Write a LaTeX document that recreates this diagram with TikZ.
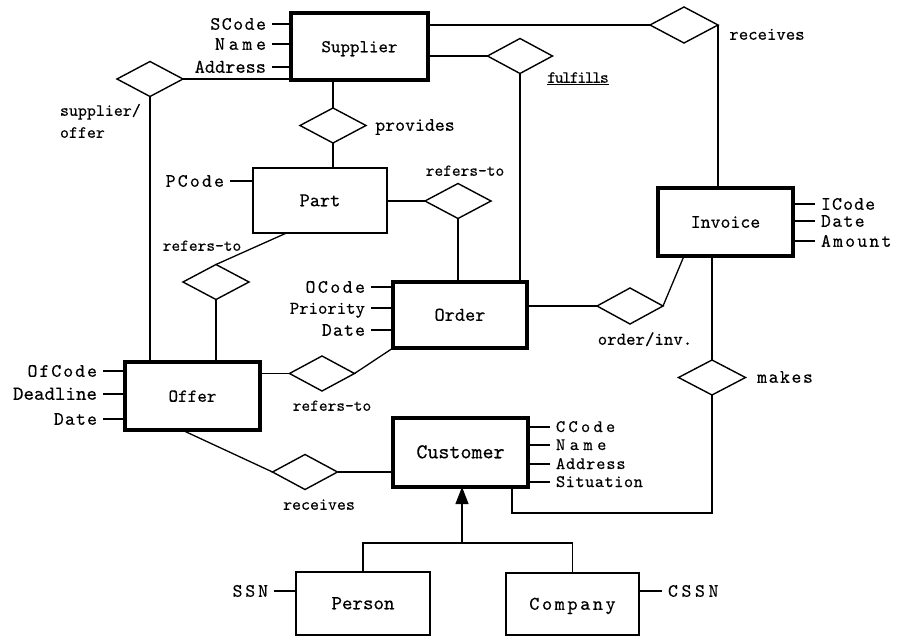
\documentclass[tikz,border=0pt]{standalone}
\usepackage{fontspec}
\usetikzlibrary{shapes.geometric,arrows.meta,calc}
\newfontfamily\tw{lmmono10-regular.otf}[FakeBold=0.3]
% typewriter text of a given size, with optional letter spacing
\newcommand\ft[2][0]{\tw\fontsize{#2}{#2}\selectfont\addfontfeature{LetterSpace=#1}}

\begin{document}
\begin{tikzpicture}[x=1pt,y=-1pt,
  every node/.style={inner sep=0pt, outer sep=0pt, text height=11.5pt, text depth=0pt},
  strong/.style={draw, rectangle, line width=3.8pt},
  weak/.style={draw, rectangle, line width=1.4pt},
  rel/.style={draw, diamond, line width=1.4pt, text height=0pt,
              minimum width=66pt, minimum height=35pt},
  link/.style={line width=1.3pt},
  attrL/.style={anchor=east, inner xsep=6pt},
  attrR/.style={anchor=west, inner xsep=6pt},
]
\fill[white] (0,0) rectangle (899,637);
\useasboundingbox (0,0) rectangle (899,637);

% entities
\node[strong, minimum width=137pt, minimum height=67pt, font={\ft{18.1}}] (sup) at (359.5,46.5) {Supplier};
\node[weak,   minimum width=134pt, minimum height=65pt, font={\ft{19.4}}] (part) at (320,200.5) {Part};
\node[strong, minimum width=134pt, minimum height=66pt, font={\ft{19.4}}] (ord) at (460,315) {Order};
\node[strong, minimum width=135pt, minimum height=68pt, font={\ft{18.9}}] (inv) at (725.5,222) {Invoice};
\node[strong, minimum width=135pt, minimum height=68pt, font={\ft{18.3}}] (off) at (192.5,396) {Offer};
\node[strong, minimum width=135pt, minimum height=69pt, font={\ft{21}}]   (cus) at (460.5,452.5) {Customer};
\node[weak,   minimum width=134pt, minimum height=63pt, font={\ft{20}}]   (per) at (363,603.5) {Person};
\node[weak,   minimum width=133pt, minimum height=62pt, font={\ft[13]{19.4}}] (com) at (572.5,604) {Company};

% relationships
\node[rel, minimum width=68pt, minimum height=36pt] (rS) at (684,25) {};
\node[rel, minimum width=65pt] (ful) at (520,56) {};
\node[rel] (so)  at (150,79) {};
\node[rel] (pr)  at (333,125.5) {};
\node[rel] (rPO) at (458,201) {};
\node[rel] (rOP) at (216,282) {};
\node[rel, minimum width=65pt] (rOO) at (322,373.5) {};
\node[rel, minimum height=36pt] (oi) at (630,306) {};
\node[rel, minimum width=67pt] (mk) at (712,377.5) {};
\node[rel, minimum width=65pt] (rC) at (305,472) {};

% relationship names
\node[font={\ft{17.9}}] (rSl) at (767,34) {receives};
\node[font={\ft[-8.5]{17.1}}] (fulfl) at (578,77) {\underline{fulfills}};
\node[anchor=west, font={\ft{17.1}}] (sol1) at (60,110) {supplier/};
\node[anchor=west, font={\ft{17.1}}] (sol2) at (60,132) {offer};
\node[font={\ft{18.9}}] (prl) at (415,125) {provides};
\node[font={\ft{16.6}}] (rPOl) at (465,170) {refers-to};
\node[font={\ft{16.6}}] (rOPl) at (202,245) {refers-to};
\node[font={\ft{16.6}}] (rOOl) at (332,405) {refers-to};
\node[font={\ft{18}}]   (oil) at (645,339) {order/inv.};
\node[font={\ft[8]{18.9}}] (mkl) at (785,377) {makes};
\node[font={\ft{17.1}}] (rCl) at (319,504) {receives};

% connectors
\draw[link] (sup.east |- rS.west) -- (rS.west);
\draw[link] (rS.east) -- (rS.east |- inv.north);
\draw[link] (sup.east |- ful.west) -- (ful.west);
\draw[link] (ful.south) -- (ful.south |- ord.north);
\draw[link] (so.east) -- (so.east -| sup.west);
\draw[link] (so.south) -- (so.south |- off.north);
\draw[link] (pr.north |- sup.south) -- (pr.north);
\draw[link] (pr.south) -- (pr.south |- part.north);
\draw[link] (part.east |- rPO.west) -- (rPO.west);
\draw[link] (rPO.south) -- (rPO.south |- ord.north);
\draw[link] (rOP.north) -- ($(part.south west)!0.25!(part.south east)$);
\draw[link] (rOP.south) -- (rOP.south |- off.north);
\draw[link] (off.east |- rOO.west) -- (rOO.west);
\draw[link] (rOO.east) -- (ord.south west);
\draw[link] (ord.east |- oi.west) -- (oi.west);
\draw[link] (oi.east) -- ($(inv.south west)+(26,0)$);
\draw[link] (mk.north |- inv.south) -- (mk.north);
\draw[link] (mk.south) |- ($(cus.south east)+(-16,26)$) -- ($(cus.south east)+(-16,0)$);
\draw[link] (rC.east) -- (rC.east -| cus.west);
\draw[link] (rC.west) -- ($(off.south west)+(57,0)$);

% generalization
\coordinate (hub) at (462,543);
\draw[link] (per.north) |- (hub) -| (com.north);
\draw[link, -{Triangle[length=17pt,width=13pt]}] (hub) -- (hub |- cus.south);

% attributes
\node[attrL, font={\ft[8]{18.9}}]  (a1) at (272,24) {SCode};
\node[attrL, font={\ft[20]{18.9}}] (a2) at (272,44) {Name};
\node[attrL, font={\ft{19.4}}]     (a3) at (272,67) {Address};
\foreach \a in {a1,a2,a3} \draw[link] (\a.east) -- (\a.east -| sup.west);

\node[attrL, font={\ft[11.5]{18.9}}] (p1) at (230,181) {PCode};
\draw[link] (p1.east) -- (p1.east -| part.west);

\node[attrL, font={\ft[13]{18.9}}] (o1) at (371,287) {OCode};
\node[attrL, font={\ft{17.9}}]     (o2) at (371,308) {Priority};
\node[attrL, font={\ft[6]{18.9}}]  (o3) at (371,330) {Date};
\foreach \a in {o1,o2,o3} \draw[link] (\a.east) -- (\a.east -| ord.west);

\node[attrL, font={\ft[10.5]{18.9}}] (f1) at (103,371) {OfCode};
\node[attrL, font={\ft{20}}]       (f2) at (103,394) {Deadline};
\node[attrL, font={\ft[6]{18.9}}]  (f3) at (103,419) {Date};
\foreach \a in {f1,f2,f3} \draw[link] (\a.east) -- (\a.east -| off.west);

\node[attrR, font={\ft[6]{18.9}}]  (i1) at (815,204) {ICode};
\node[attrR, font={\ft[7]{18.9}}]  (i2) at (815,221) {Date};
\node[attrR, font={\ft[11.5]{18.9}}] (i3) at (815,241) {Amount};
\foreach \a in {i1,i2,i3} \draw[link] (\a.west) -- (\a.west -| inv.east);

\node[attrR, text height=10pt, font={\ft[19]{17.5}}] (c1) at (550,427) {CCode};
\node[attrR, text height=10pt, font={\ft[26]{17.5}}] (c2) at (550,445) {Name};
\node[attrR, text height=10pt, font={\ft[5]{17.5}}]  (c3) at (550,464) {Address};
\node[attrR, text height=10pt, font={\ft[3]{17.5}}]  (c4) at (550,482) {Situation};
\foreach \a in {c1,c2,c3,c4} \draw[link] (\a.west) -- (\a.west -| cus.east);

\node[attrL, font={\ft[15]{18.9}}] (s1) at (274,591) {SSN};
\draw[link] (s1.east) -- (s1.east -| per.west);
\node[attrR, font={\ft[19]{18.9}}] (s2) at (662,591) {CSSN};
\draw[link] (s2.west) -- (s2.west -| com.east);
\end{tikzpicture}
\end{document}
